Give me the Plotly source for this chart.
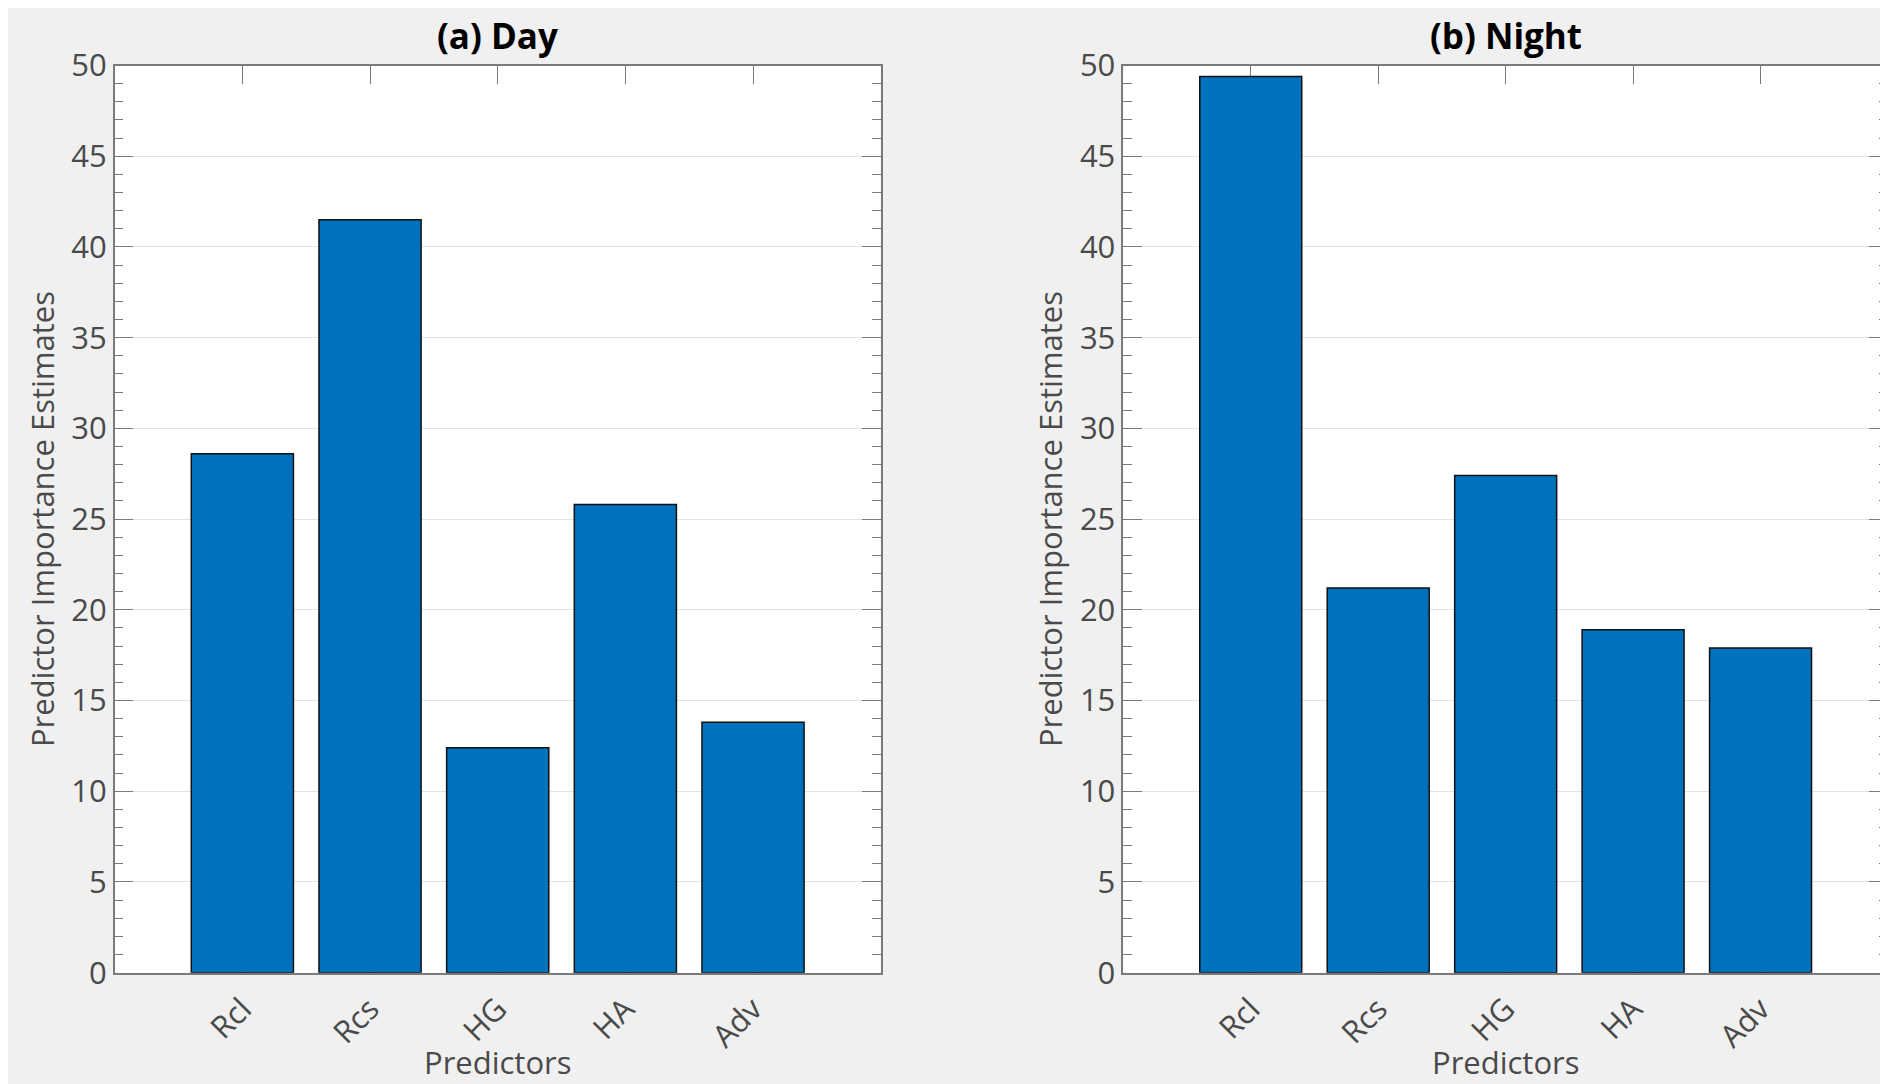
import plotly.graph_objects as go

# ---- data ----
predictors = ["Rcl", "Rcs", "HG", "HA", "Adv"]
day_values = [28.6, 41.5, 12.4, 25.8, 13.8]
night_values = [49.4, 21.2, 27.4, 18.9, 17.9]
panel_titles = ["(a) Day", "(b) Night"]
y_tick_values = [0, 5, 10, 15, 20, 25, 30, 35, 40, 45, 50]
x_label = "Predictors"
y_label = "Predictor Importance Estimates"

# page body has an 8px margin: figure sized to fit the window exactly
OFF = 8
W, H = 1888 - OFF, 1084 - OFF
FONT = "Open Sans"
BAR_COLOR = "#0072BD"
AXIS_COLOR = "#7a7a7a"
TEXT_COLOR = "#4a4a4a"

def px_x(p):  # screen pixel -> paper fraction
    return (p - OFF) / W

def px_y(p):
    return 1 - (p - OFF) / H

x_domains = [[px_x(114.7), px_x(880.7)], [px_x(1123.3), 1.0]]
y_domain = [px_y(972.7), px_y(65.5)]
panel_centers = [(114.7 + 880.7) / 2, (1123.3 + 1889.3) / 2]
ylabel_x = [42, 1050]

fig = go.Figure()

series = [day_values, night_values]
for i, vals in enumerate(series):
    xa = "x" if i == 0 else "x2"
    ya = "y" if i == 0 else "y2"
    fig.add_trace(go.Bar(
        x=predictors, y=vals, xaxis=xa, yaxis=ya,
        width=0.8,
        marker=dict(color=BAR_COLOR, line=dict(color="#111111", width=1.5)),
        showlegend=False, hoverinfo="x+y",
    ))

axis_common_x = dict(
    type="category", range=[-1, len(predictors)],
    showline=True, linecolor=AXIS_COLOR, linewidth=1.5, mirror="ticks",
    ticks="inside", ticklen=19, tickwidth=1.2, tickcolor=AXIS_COLOR,
    tickangle=-45, showgrid=False, zeroline=False, automargin=False,
    ticklabelstandoff=4,
    tickfont=dict(family=FONT, size=31, color=TEXT_COLOR),
    layer="below traces", fixedrange=True,
)
axis_common_y = dict(
    range=[0, 50], tickvals=y_tick_values,
    showline=True, linecolor=AXIS_COLOR, linewidth=1.5, mirror="ticks",
    ticks="inside", ticklen=19, tickwidth=1.2, tickcolor=AXIS_COLOR,
    showgrid=True, gridcolor="#e3e3e3", gridwidth=1, zeroline=False,
    automargin=False,
    tickfont=dict(family=FONT, size=31, color=TEXT_COLOR),
    minor=dict(dtick=1, tick0=0, ticks="inside", ticklen=9, tickwidth=1.2,
               tickcolor=AXIS_COLOR, showgrid=False),
    fixedrange=True,
)

fig.update_layout(
    width=W, height=H,
    autosize=False,
    margin=dict(l=0, r=0, t=0, b=0, pad=0, autoexpand=False),
    paper_bgcolor="#f0f0f0",
    plot_bgcolor="white",
    bargap=0.2,
    xaxis=dict(domain=x_domains[0], anchor="y", **axis_common_x),
    yaxis=dict(domain=y_domain, anchor="x", **axis_common_y),
    xaxis2=dict(domain=x_domains[1], anchor="y2", **axis_common_x),
    yaxis2=dict(domain=y_domain, anchor="x2", **axis_common_y),
)

annotations = []
for i, t in enumerate(panel_titles):
    cx = px_x(panel_centers[i])
    annotations.append(dict(
        text="<b>%s</b>" % t, x=cx, y=px_y(36), xref="paper", yref="paper",
        xanchor="center", yanchor="middle", showarrow=False,
        font=dict(family=FONT, size=35, color="#000000"),
    ))
    annotations.append(dict(
        text=x_label, x=cx, y=px_y(1062), xref="paper", yref="paper",
        xanchor="center", yanchor="middle", showarrow=False,
        font=dict(family=FONT, size=31, color=TEXT_COLOR),
    ))
    annotations.append(dict(
        text=y_label, x=px_x(ylabel_x[i]), y=(y_domain[0] + y_domain[1]) / 2,
        xref="paper", yref="paper", xanchor="center", yanchor="middle",
        textangle=-90, showarrow=False,
        font=dict(family=FONT, size=31, color=TEXT_COLOR),
    ))
fig.update_layout(annotations=annotations)

fig.write_html("out.html")
